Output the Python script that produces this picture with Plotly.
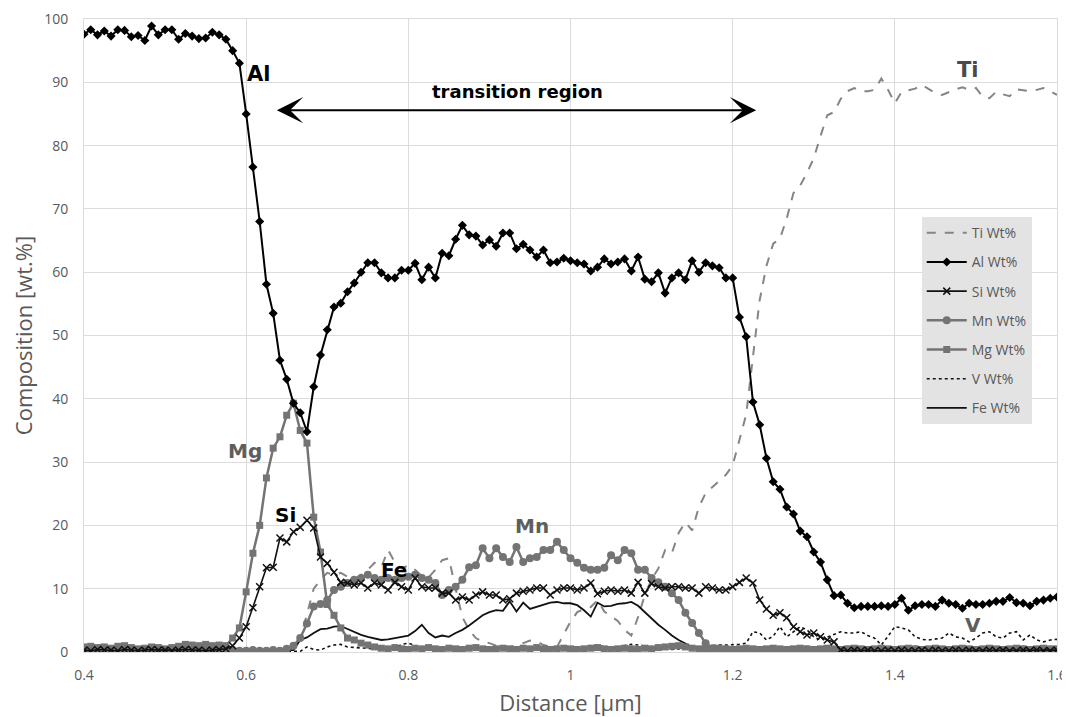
import plotly.graph_objects as go

# Sampling positions along the line scan (µm): 145 points, 1/120 µm apart
distance = [round(0.4 + i / 120, 5) for i in range(145)]

ti = [0.3, 0.2, 0.4, 0.3, 0.2, 0.3, 0.4, 0.3, 0.2, 0.3,
      0.3, 0.2, 0.4, 0.3, 0.3, 0.2, 0.3, 0.4, 0.3, 0.2,
      0.3, 0.3, 0.4, 0.3, 0.2, 0.3, 0.3, 0.2, 0.3, 0.4,
      0.5, 0.8,
      2.0, 6.0, 10.0, 11.4, 12.5, 12.2, 12.5, 11.9, 11.4, 12.2,
      13.0, 14.1, 13.4, 16.1, 14.2, 13.2, 13.7, 13.0, 12.0, 11.8,
      13.0, 14.5, 14.8, 10.0, 5.5,
      3.5, 2.2, 1.6, 1.4, 1.0, 0.8, 0.8, 1.0, 1.4, 1.8,
      1.7, 1.1, 0.9, 0.8, 2.8, 4.8, 6.3, 6.8, 7.1, 8.2,
      6.4, 5.6, 4.9, 3.5, 2.6, 5.5, 9.0, 11.5, 13.2, 16.1,
      15.6, 18.8, 20.5, 19.2, 22.9, 25.1, 26.1, 27.0, 28.0, 29.5,
      33.5, 37.5, 46.6, 55.6, 61.0, 64.5, 65.3, 68.5, 72.5, 73.7,
      75.7, 78.0, 81.5, 84.8, 85.3, 87.4, 88.6, 89.1, 88.6, 88.6,
      88.8, 90.6, 88.8, 86.7, 88.5, 88.8, 89.0, 89.6, 88.9, 88.3,
      88.0, 88.5, 88.9, 89.2, 88.8, 89.1, 87.7, 87.5, 88.5, 88.1,
      87.8, 88.9, 88.7, 88.6, 88.8, 89.1, 88.6, 88.0]

al = [97.6, 98.3, 97.5, 98.1, 97.3, 98.3, 98.2, 97.2, 97.4, 96.6,
      98.9, 97.5, 98.3, 98.3, 96.8, 97.7, 97.3, 96.9, 97.0, 97.9,
      97.5, 96.8,
      95.0, 93.0, 85.0, 76.6, 68.0,
      58.1, 53.5, 46.1, 43.1, 39.3, 37.8, 34.8, 41.9, 46.9, 50.9,
      54.5, 55.1, 56.9, 58.3, 60.0, 61.5, 61.5, 59.9, 59.1, 59.1,
      60.3, 60.3, 61.4, 58.8, 60.8, 59.1, 63.0, 62.6, 65.2, 67.4,
      65.9, 65.7, 64.3, 65.1, 64.1, 66.2, 66.2, 63.7, 64.4, 63.5,
      62.4, 63.5, 61.5, 61.6, 62.2, 61.8, 61.5, 61.3, 60.2, 60.8,
      62.1, 61.3, 61.6, 62.1, 60.2, 62.4, 58.9, 58.5, 59.9, 56.7,
      59.1, 59.9, 58.8, 61.8, 60.0, 61.5, 61.0, 60.7, 59.1, 59.1,
      52.9, 49.8, 39.5, 35.9, 30.6, 26.9, 25.7, 22.9, 21.8, 19.1,
      18.2, 15.8, 14.2, 11.4, 8.9, 9.0, 7.7, 7.0,
      7.2, 7.2, 7.2, 7.3, 7.2, 7.5, 8.5, 6.6, 7.3, 7.5,
      7.5, 7.2, 8.2, 7.7, 7.5, 6.9, 7.7, 7.5, 7.5, 7.7,
      8.0, 8.0, 8.6, 7.8, 7.7, 7.3, 8.0, 8.2, 8.5, 8.7]

si = [0.3, 0.2, 0.4, 0.3, 0.3, 0.2, 0.4, 0.3, 0.2, 0.3,
      0.4, 0.3, 0.3, 0.2, 0.3, 0.4, 0.3, 0.3, 0.2, 0.3,
      0.4,
      0.5, 1.0, 2.2, 4.0, 7.0, 10.3, 13.3, 13.4, 18.0, 17.4,
      19.0, 19.7, 20.8, 19.6, 15.0, 14.0, 12.6, 11.0, 10.9, 10.6,
      10.9, 10.1, 10.9, 10.6, 9.8, 11.0, 10.3, 9.8, 11.7, 10.3,
      10.1, 10.1, 9.3, 9.3, 8.2, 8.7,
      8.2, 9.0, 9.5, 9.0, 9.0, 8.2, 8.4, 9.3, 9.6, 9.8,
      10.1, 10.1, 9.0, 9.8, 10.1, 10.1, 9.8, 10.1, 10.9, 9.2,
      9.6, 9.8, 9.6, 9.8, 9.3, 11.0, 9.3, 10.8, 10.3, 10.1,
      10.3, 10.3, 10.1, 10.1, 9.3, 10.3, 10.1, 9.8, 9.8, 10.3,
      11.0, 11.7, 10.9, 8.2, 6.8, 5.8, 6.2, 5.4, 4.0, 3.2,
      2.7, 3.0, 2.4, 1.9, 1.6, 0.3,
      0.2, 0.3, 0.2, 0.3, 0.2, 0.2, 0.3, 0.2, 0.3, 0.2,
      0.2, 0.3, 0.2, 0.3, 0.2, 0.2, 0.3, 0.2, 0.3, 0.2,
      0.2, 0.3, 0.2, 0.3, 0.2, 0.2, 0.3, 0.2, 0.3, 0.2,
      0.2, 0.3]

mn = [0.2, 0.3, 0.2, 0.2, 0.3, 0.2, 0.2, 0.3, 0.2, 0.2,
      0.3, 0.2, 0.2, 0.3, 0.2, 0.2, 0.3, 0.2, 0.2, 0.3,
      0.2, 0.2, 0.3, 0.2, 0.2, 0.3, 0.2, 0.2, 0.3, 0.2,
      0.5, 1.0,
      2.2, 4.5, 7.2, 7.6, 8.2, 9.8, 10.3, 10.9, 11.4, 11.7,
      12.2, 11.7, 11.4, 11.7, 11.4, 11.7, 11.9, 12.2, 11.7, 11.4,
      10.9, 9.0, 9.8, 10.3, 11.4, 13.4, 13.7, 16.4, 14.8, 16.4,
      15.0, 14.2, 16.6, 14.2, 14.8, 15.0, 16.1, 16.1, 17.4, 16.1,
      14.8, 14.1, 13.3, 13.0, 13.0, 13.3, 15.3, 14.5, 16.1, 15.6,
      13.0, 13.0, 11.7, 11.0, 10.3, 9.3, 8.2, 6.2, 4.6, 3.0,
      1.4, 0.6,
      0.3, 0.4, 0.3, 0.3, 0.4, 0.3, 0.2, 0.3, 0.4, 0.3,
      0.3, 0.2, 0.3, 0.4, 0.3, 0.3, 0.2, 0.3, 0.3, 0.4,
      0.3, 0.2, 0.3, 0.3, 0.4, 0.3, 0.3, 0.2, 0.3, 0.4,
      0.3, 0.3, 0.2, 0.3, 0.3, 0.4, 0.3, 0.2, 0.3, 0.3,
      0.4, 0.3, 0.3, 0.2, 0.3, 0.4, 0.3, 0.3, 0.2, 0.3,
      0.3]

mg = [0.8, 0.9, 0.7, 0.8, 0.6, 0.9, 1.0, 0.7, 0.5, 0.6,
      0.8, 0.7, 0.5, 0.7, 0.9, 1.2, 1.1, 1.0, 1.2, 1.0,
      1.1, 1.0,
      2.2, 3.8, 9.5, 15.6, 20.0, 27.5, 32.2, 34.0, 37.4, 39.3,
      35.0, 33.0, 21.3, 15.8, 7.5, 5.8, 3.8, 2.2, 1.9, 1.4,
      1.1,
      0.8, 0.6, 0.5, 0.7, 0.5, 0.4, 0.6, 0.5, 0.7, 0.5,
      0.4, 0.6, 0.5, 0.4, 0.6, 0.7, 0.5, 0.4, 0.5, 0.6,
      0.5, 0.4, 0.6, 0.5, 0.7, 0.5, 0.4, 0.5, 0.6, 0.5,
      0.4, 0.5, 0.6, 0.7, 0.5, 0.4, 0.5, 0.6, 0.5, 0.4,
      0.6, 0.5, 0.7, 0.8, 0.9, 1.0, 0.8, 0.6, 0.5, 0.4,
      0.5, 0.6, 0.5, 0.4, 0.5, 0.6, 0.5, 0.4, 0.5, 0.6,
      0.5, 0.4, 0.5, 0.6, 0.5, 0.4, 0.5, 0.6, 0.5, 0.4,
      0.5, 0.6, 0.5, 0.4, 0.5, 0.6, 0.5, 0.4, 0.5, 0.6,
      0.5, 0.4, 0.5, 0.6, 0.5, 0.4, 0.5, 0.6, 0.5, 0.4,
      0.5, 0.6, 0.5, 0.4, 0.5, 0.6, 0.5, 0.4, 0.5, 0.6,
      0.5, 0.5]

v = [0.1, 0.1, 0.1, 0.1, 0.1, 0.1, 0.1, 0.1, 0.1, 0.1,
     0.1, 0.1, 0.1, 0.1, 0.1, 0.1, 0.1, 0.1, 0.1, 0.1,
     0.1, 0.1, 0.1, 0.1, 0.1, 0.1, 0.1, 0.1, 0.1, 0.1,
     0.1, 0.1,
     0.1, 0.8, 0.4, 0.3, 0.8, 1.1, 1.2, 0.8, 0.7, 0.6,
     0.5, 0.4, 0.4, 0.5, 0.6, 1.2, 1.4, 1.0, 0.8, 0.6,
     0.5, 0.5, 0.6, 0.8, 0.7, 0.6, 0.5, 0.4, 0.5, 0.6,
     0.7, 0.5, 0.4, 0.4, 0.5, 0.6, 0.7, 0.8, 0.6, 0.5,
     0.5, 0.6, 0.8, 1.0, 1.0, 0.9, 0.7, 0.8, 1.0, 1.2,
     1.1, 0.9, 0.7, 0.6, 0.5, 0.4, 0.5, 0.6, 0.7, 0.8,
     1.0, 1.0, 1.1, 1.1, 1.1, 1.2, 1.4,
     3.2, 3.0, 1.9, 2.5, 4.0, 2.4, 3.2, 4.0, 3.5, 2.4,
     1.9, 2.3, 2.7, 3.2, 3.0, 3.0, 3.2, 2.6, 2.2, 1.1,
     2.5, 4.0, 3.8, 3.5, 2.4, 2.0, 1.9, 2.0, 2.2, 3.0,
     2.4, 2.2, 1.6, 2.2, 3.0, 3.2, 2.4, 2.2, 3.0, 3.2,
     1.9, 2.7, 1.9, 1.6, 1.9, 2.0]

fe = [0.2, 0.2, 0.2, 0.2, 0.2, 0.2, 0.2, 0.2, 0.2, 0.2,
      0.2, 0.2, 0.2, 0.2, 0.2, 0.2, 0.2, 0.2, 0.2, 0.2,
      0.2, 0.2, 0.2, 0.2, 0.2, 0.2, 0.2, 0.2, 0.2, 0.2,
      0.2, 0.3,
      1.9, 2.3, 3.0, 3.6, 3.7, 4.0, 4.1, 3.6, 3.2, 2.7,
      2.4, 2.1, 1.9, 2.0, 2.2, 2.3, 2.6, 3.3, 4.3, 3.0,
      2.3, 2.6, 2.4, 3.0, 3.5, 4.2, 5.0, 5.8, 6.3, 6.6,
      6.5, 8.0, 6.4, 7.8, 6.8, 7.1, 7.5, 7.8, 7.9, 7.7,
      7.7, 7.4, 6.6, 5.6, 7.8, 7.2, 7.3, 7.6, 7.7, 7.9,
      7.3, 6.3, 5.2, 4.3, 3.5, 2.6, 1.9, 1.3, 0.8, 0.5,
      0.3,
      0.3, 0.3, 0.3, 0.3, 0.3, 0.3, 0.3, 0.3, 0.3, 0.3,
      0.3, 0.3, 0.3, 0.3, 0.3, 0.3, 0.3, 0.3, 0.3, 0.3,
      0.3, 0.3, 0.3, 0.3, 0.3, 0.3, 0.3, 0.3, 0.3, 0.3,
      0.3, 0.3, 0.3, 0.3, 0.3, 0.3, 0.3, 0.3, 0.3, 0.3,
      0.3, 0.3, 0.3, 0.3, 0.3, 0.3, 0.3, 0.3, 0.3, 0.3,
      0.3, 0.3]

x_ticks = [0.4, 0.6, 0.8, 1.0, 1.2, 1.4, 1.6]
x_tick_labels = ["0.4", "0.6", "0.8", "1", "1.2", "1.4", "1.6"]
y_ticks = list(range(0, 101, 10))

GRAY = "#747474"
TXT = "#595959"

fig = go.Figure()

def add(name, y, rank, line, marker=None):
    mode = "lines+markers" if marker else "lines"
    fig.add_trace(go.Scatter(x=distance, y=y, name=name, mode=mode, line=line,
                             marker=marker, legendrank=rank, legendgroup=name))

add("Ti Wt%", ti, 1, dict(color="#858585", width=2, dash="dash"))
add("V Wt%", v, 6, dict(color="#111111", width=1.6, dash="dot"))
add("Fe Wt%", fe, 7, dict(color="#111111", width=1.8))
add("Mg Wt%", mg, 5, dict(color=GRAY, width=2.5),
    dict(symbol="square", size=7, color=GRAY))
add("Mn Wt%", mn, 4, dict(color=GRAY, width=2.5),
    dict(symbol="circle", size=8, color=GRAY))
add("Si Wt%", si, 3, dict(color="#111111", width=1.6),
    dict(symbol="x-thin-open", size=7, color="#111111", line=dict(width=1.5, color="#111111")))
add("Al Wt%", al, 2, dict(color="#000000", width=2),
    dict(symbol="diamond", size=7, color="#000000"))

ann = [
    dict(x=0.615, y=91.3, text="<b>Al</b>", color="#000000", size=21),
    dict(x=0.935, y=88.6, text="<b>transition region</b>", color="#000000", size=18),
    dict(x=1.49, y=92.0, text="<b>Ti</b>", color="#4a4a4a", size=21),
    dict(x=0.598, y=31.8, text="<b>Mg</b>", color="#5e5e5e", size=20),
    dict(x=0.649, y=21.6, text="<b>Si</b>", color="#000000", size=20),
    dict(x=0.953, y=19.9, text="<b>Mn</b>", color="#5e5e5e", size=20),
    dict(x=0.782, y=12.9, text="<b>Fe</b>", color="#000000", size=20),
    dict(x=1.496, y=4.3, text="<b>V</b>", color="#5e5e5e", size=20),
]
for a in ann:
    fig.add_annotation(x=a["x"], y=a["y"], text=a["text"], showarrow=False,
                       font=dict(family="DejaVu Sans", size=a["size"], color=a["color"]))

# double-headed arrow for the transition region
fig.add_annotation(x=1.229, y=85.6, ax=0.636, ay=85.6, xref="x", yref="y",
                   axref="x", ayref="y", text="", showarrow=True,
                   arrowhead=3, startarrowhead=3, arrowside="end+start",
                   arrowsize=2.2, startarrowsize=2.2, arrowwidth=2, arrowcolor="#000000")

axis_font = dict(family="Open Sans", size=14, color=TXT)
fig.update_xaxes(range=[0.4, 1.6], tickvals=x_ticks, ticktext=x_tick_labels,
                 showgrid=True, gridcolor="#dcdcdc", gridwidth=1,
                 showline=True, linecolor="#dcdcdc", mirror=True, zeroline=False,
                 tickfont=axis_font, ticks="", ticklabelstandoff=10, automargin=False,
                 title=dict(text="Distance [µm]", font=dict(family="Open Sans", size=22, color=TXT),
                            standoff=12))
fig.update_yaxes(range=[0, 100], tickvals=y_ticks,
                 showgrid=True, gridcolor="#dcdcdc", gridwidth=1,
                 showline=True, linecolor="#dcdcdc", mirror=True, zeroline=False,
                 tickfont=axis_font, ticks="", ticklabelstandoff=12, automargin=False,
                 title=dict(text="Composition [wt.%]", font=dict(family="Open Sans", size=22, color=TXT),
                            standoff=12))

# the page adds an 8 px body margin, so the figure is sized/offset to compensate
fig.update_layout(
    width=1062, height=709,
    margin=dict(l=76, r=13, t=11, b=65),
    paper_bgcolor="white", plot_bgcolor="white",
    showlegend=True,
    legend=dict(x=0.861, y=0.687, xanchor="left", yanchor="top",
                bgcolor="#e3e3e3", borderwidth=0,
                font=dict(family="Open Sans", size=14, color=TXT),
                tracegroupgap=8, itemwidth=40),
)

fig.write_html("out.html")
